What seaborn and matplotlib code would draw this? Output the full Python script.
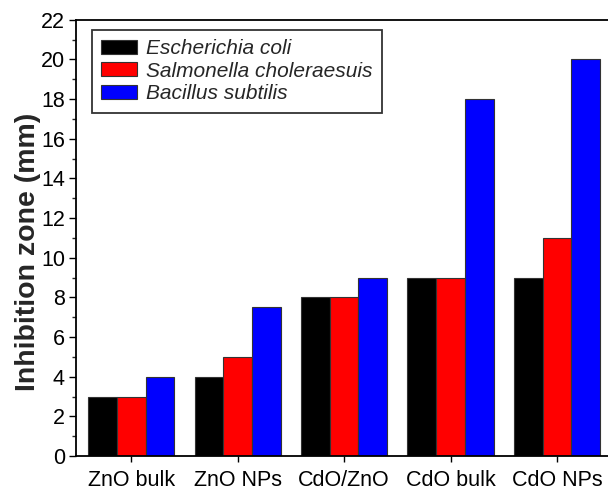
import pandas as pd
import numpy as np
import matplotlib.pyplot as plt
import seaborn as sns
from matplotlib.ticker import MultipleLocator

# data
materials = ['ZnO bulk', 'ZnO NPs', 'CdO/ZnO', 'CdO bulk', 'CdO NPs']
e_coli = [3, 4, 8, 9, 9]
s_cholera = [3, 5, 8, 9, 11]
b_subtilis = [4, 7.5, 9, 18, 20]
species = ['Escherichia coli', 'Salmonella choleraesuis', 'Bacillus subtilis']
colors = ['#000000', '#ff0000', '#0000ff']

data = pd.DataFrame({
    'Material': materials * 3,
    'Zone': e_coli + s_cholera + b_subtilis,
    'Species': [s for s in species for _ in materials],
})

sns.set_style('ticks')
plt.rcParams['font.family'] = ['Liberation Sans', 'DejaVu Sans']

fig = plt.figure(figsize=(6.08, 4.93), dpi=100)
ax = fig.add_axes([0.125, 0.075, 0.882, 0.885])

sns.barplot(data=data, x='Material', y='Zone', hue='Species',
            palette=colors, width=0.81, edgecolor='#333333', linewidth=0.8,
            saturation=1, ax=ax)

ax.set_xlim(-0.52, 4.52)
ax.set_ylim(0, 22)
ax.yaxis.set_major_locator(MultipleLocator(2))
ax.yaxis.set_minor_locator(MultipleLocator(1))
ax.tick_params(axis='both', direction='out', labelsize=15.5, width=1, colors='black')
ax.tick_params(axis='y', which='major', length=5, pad=3)
ax.tick_params(axis='y', which='minor', length=3, width=1)
ax.tick_params(axis='x', length=4, pad=6)
ax.set_xlabel('')
ax.set_ylabel('Inhibition zone (mm)', fontsize=20.5, fontweight='bold')
ax.yaxis.set_label_coords(-0.066, 0.468)
for side in ['left', 'bottom', 'top']:
    ax.spines[side].set_visible(True)
    ax.spines[side].set_linewidth(1.3)
    ax.spines[side].set_color('black')
ax.spines['right'].set_visible(False)

leg = ax.legend(loc='upper left', bbox_to_anchor=(0.03, 0.977), fontsize=15,
                frameon=True, fancybox=False, edgecolor='black',
                handlelength=1.7, handleheight=0.67, borderpad=0.45,
                labelspacing=0.17, handletextpad=0.45, borderaxespad=0)
leg.get_frame().set_linewidth(1.3)
for t in leg.get_texts():
    t.set_fontstyle('italic')

fig.savefig('out.png', dpi=100)
